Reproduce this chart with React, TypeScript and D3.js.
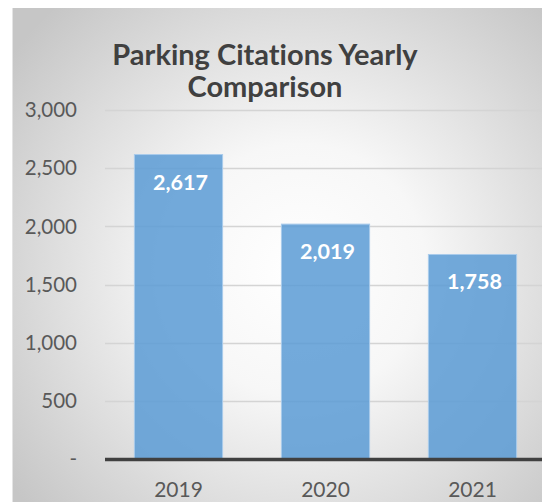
import React, { useEffect, useRef } from "react";
import * as d3 from "d3";

// chart data
const years = ["2019", "2020", "2021"];
const citations = [2617, 2019, 1758];
const yTicks = [0, 500, 1000, 1500, 2000, 2500, 3000];
const titleLines = ["Parking Citations Yearly", "Comparison"];

const W = 542;
const H = 502;
const FONT = "Lato, 'Open Sans', sans-serif";

const App = () => {
  const svgRef = useRef<SVGSVGElement>(null);

  useEffect(() => {
    const svg = d3.select(svgRef.current);
    svg.selectAll("*").remove();

    // plot area
    const left = 105;
    const right = 546;
    const top = 110;
    const bottom = 459;

    // background with radial gradient
    const defs = svg.append("defs");
    const grad = defs
      .append("radialGradient")
      .attr("id", "bg")
      .attr("gradientUnits", "userSpaceOnUse")
      .attr("cx", 300)
      .attr("cy", 270)
      .attr("r", 360);
    grad.append("stop").attr("offset", "0%").attr("stop-color", "#ffffff");
    grad.append("stop").attr("offset", "35%").attr("stop-color", "#f7f7f7");
    grad.append("stop").attr("offset", "100%").attr("stop-color", "#c6c6c6");

    svg.append("rect").attr("width", W).attr("height", H).attr("fill", "#ffffff");
    svg
      .append("rect")
      .attr("x", 12)
      .attr("y", 8)
      .attr("width", W - 12)
      .attr("height", H - 8)
      .attr("fill", "url(#bg)");
    svg
      .append("line")
      .attr("x1", 12.5)
      .attr("x2", 12.5)
      .attr("y1", 8)
      .attr("y2", H)
      .attr("stroke", "#e4e4e4");

    // scales
    const x = d3
      .scaleBand()
      .domain(years)
      .range([left, right])
      .paddingInner(0.4)
      .paddingOuter(0.2);

    const y = d3.scaleLinear().domain([0, 3000]).range([bottom, top]);

    // gridlines
    svg
      .append("g")
      .selectAll("line")
      .data(yTicks.filter((d) => d > 0))
      .enter()
      .append("line")
      .attr("x1", left)
      .attr("x2", W)
      .attr("y1", (d) => Math.round(y(d)) + 0.5)
      .attr("y2", (d) => Math.round(y(d)) + 0.5)
      .attr("stroke", "#d4d4d4")
      .attr("stroke-width", 1.5);

    // bars
    svg
      .append("g")
      .selectAll("rect")
      .data(citations)
      .enter()
      .append("rect")
      .attr("x", (d, i) => x(years[i]))
      .attr("y", (d) => y(d))
      .attr("width", x.bandwidth())
      .attr("height", (d) => bottom - y(d))
      .attr("fill", "#5b9bd5")
      .attr("fill-opacity", 0.85)
      .attr("stroke", "#a9cbeb")
      .attr("stroke-width", 1);

    // value labels
    svg
      .append("g")
      .selectAll("text")
      .data(citations)
      .enter()
      .append("text")
      .attr("x", (d, i) => x(years[i]) + x.bandwidth() / 2 + 2)
      .attr("y", (d) => y(d) + 35)
      .attr("text-anchor", "middle")
      .attr("font-family", FONT)
      .attr("font-weight", "bold")
      .attr("font-size", 21.5)
      .attr("fill", "#ffffff")
      .text((d) => d3.format(",")(d));

    // x axis line
    svg
      .append("line")
      .attr("x1", left)
      .attr("x2", W)
      .attr("y1", bottom + 0.5)
      .attr("y2", bottom + 0.5)
      .attr("stroke", "#404040")
      .attr("stroke-width", 3.5);

    // y tick labels
    svg
      .append("g")
      .selectAll("text")
      .data(yTicks)
      .enter()
      .append("text")
      .attr("x", 77)
      .attr("y", (d) => y(d))
      .attr("dy", "0.35em")
      .attr("text-anchor", "end")
      .attr("font-family", FONT)
      .attr("font-size", 20.5)
      .attr("fill", "#595959")
      .text((d) => (d === 0 ? "-" : d3.format(",")(d)));

    // x labels
    svg
      .append("g")
      .selectAll("text")
      .data(years)
      .enter()
      .append("text")
      .attr("x", (d) => x(d) + x.bandwidth() / 2)
      .attr("y", 497)
      .attr("text-anchor", "middle")
      .attr("font-family", FONT)
      .attr("font-size", 21)
      .attr("fill", "#595959")
      .text((d) => d);

    // title
    svg
      .append("g")
      .selectAll("text")
      .data(titleLines)
      .enter()
      .append("text")
      .attr("x", 265)
      .attr("y", (d, i) => 65 + i * 32)
      .attr("text-anchor", "middle")
      .attr("font-family", FONT)
      .attr("font-weight", "bold")
      .attr("font-size", 29)
      .style("font-variant-ligatures", "none")
      .attr("fill", "#404040")
      .text((d) => d);
  }, []);

  return (
    <div style={{ position: "absolute", left: 0, top: 0 }}>
      <svg ref={svgRef} width={W} height={H} style={{ display: "block" }}></svg>
    </div>
  );
};

export default App;
